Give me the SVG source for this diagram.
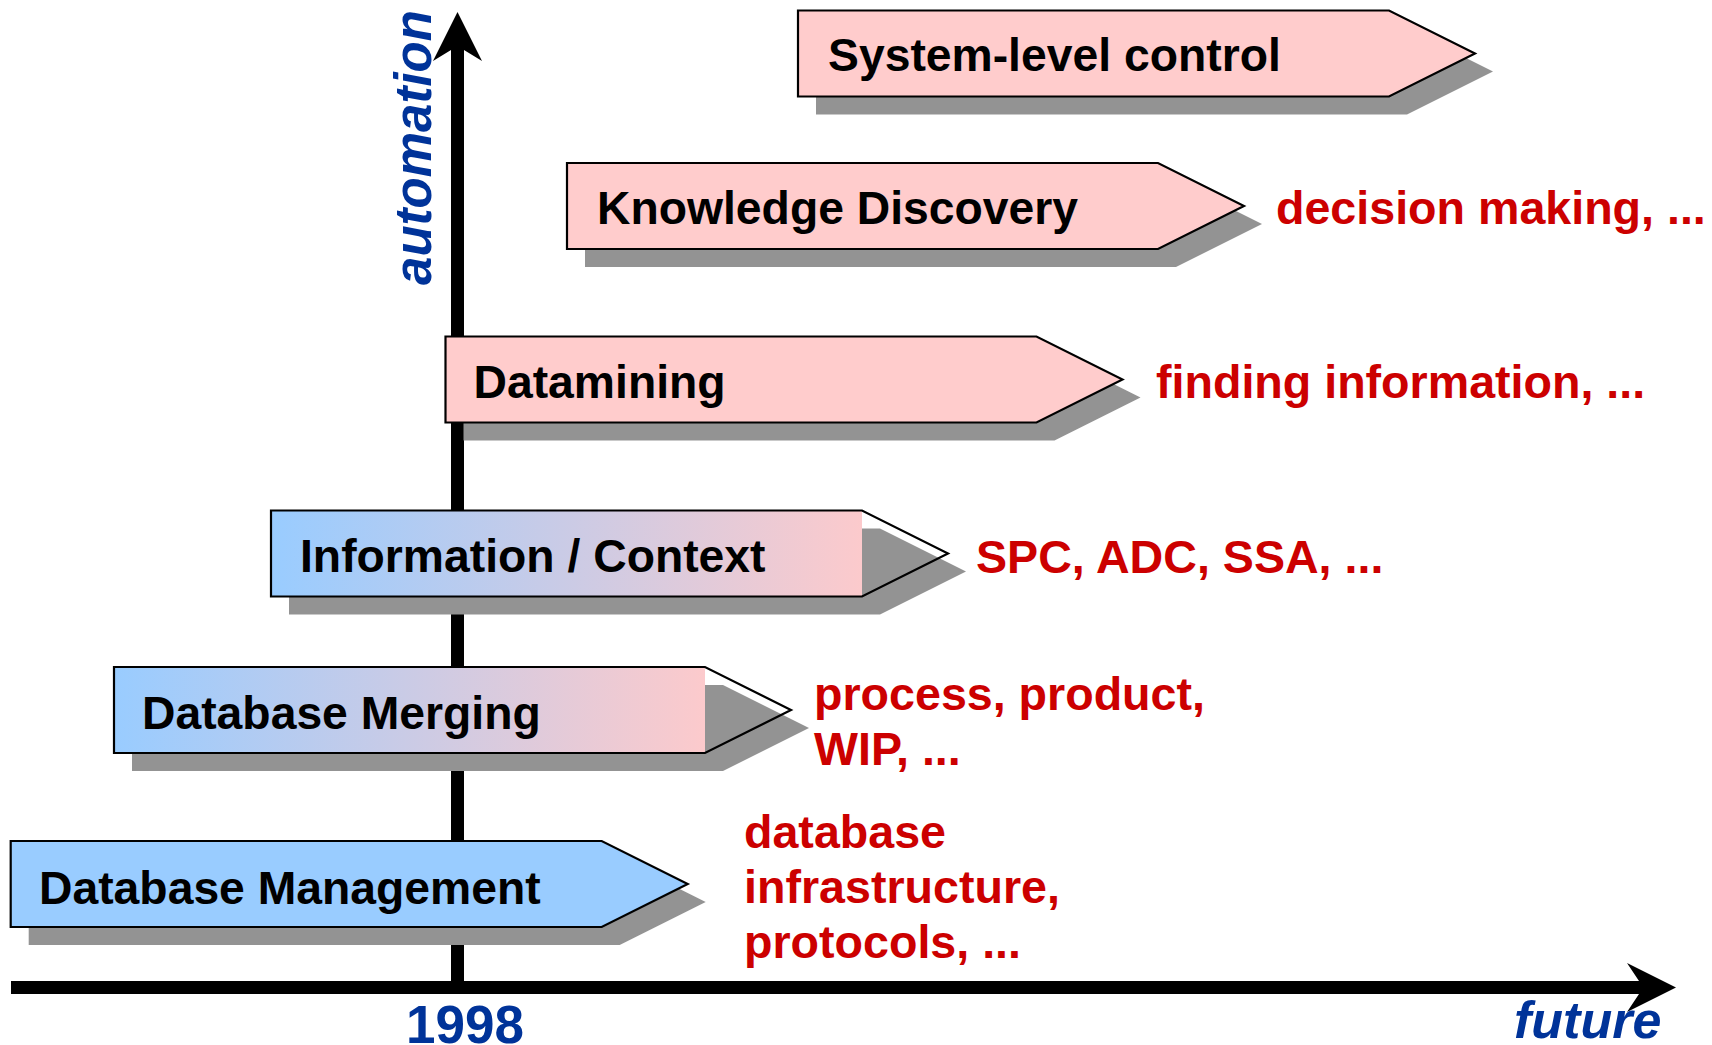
<svg xmlns="http://www.w3.org/2000/svg" xmlns:xlink="http://www.w3.org/1999/xlink" width="1712" height="1045" viewBox="0 0 1712 1045">
  <defs>
    <style>
      .label { font-family: "Liberation Sans", Arial, sans-serif; font-weight: bold; font-size: 46.3px; fill: #000; }
      .note { font-family: "Liberation Sans", Arial, sans-serif; font-weight: bold; font-size: 46.6px; fill: #cc0000; }
      .axis-label { font-family: "Liberation Sans", Arial, sans-serif; font-weight: bold; fill: #003399; }
      .shadow { fill: #939393; stroke: none; }
      .pink { fill: #ffcccc; stroke: #000; stroke-width: 2.2; }
      .blue { fill: #99ccff; stroke: #000; stroke-width: 2.2; }
      .outline { fill: none; stroke: #000; stroke-width: 2.2; }
      .axis { fill: #000; stroke: none; }
    </style>
    <!-- pentagon arrow block: 591 body + 86 point, 86 tall -->
    <path id="block" d="M0,0 H591 L677,43 L591,86 H0 Z"/>
    <linearGradient id="fade" x1="0" y1="0" x2="1" y2="0">
      <stop offset="0" stop-color="#99ccff"/>
      <stop offset="1" stop-color="#fccacc"/>
    </linearGradient>
    <rect id="fadeBody" width="591" height="86" fill="url(#fade)"/>
  </defs>

  <rect width="1712" height="1045" fill="#fff"/>

  <!-- axes -->
  <g id="connectors">
    <rect class="axis" x="451" y="49" width="13" height="945"/>
    <polygon class="axis" points="457.5,12 482,61 464,50 451,50 433,61"/>
    <rect class="axis" x="11" y="981" width="1630" height="13"/>
    <polygon class="axis" points="1676,987.5 1627,1012 1639,994 1639,981 1627,963"/>
  </g>

  <g id="axis-labels">
    <text class="axis-label" font-size="51" font-style="italic" text-anchor="middle" transform="translate(431,147.5) rotate(-90)">automation</text>
    <text class="axis-label" font-size="53" x="406" y="1043">1998</text>
    <text class="axis-label" font-size="52" font-style="italic" x="1514" y="1038">future</text>
  </g>

  <g id="node-system-level-control">
    <use href="#block" class="shadow" x="816" y="28.5"/>
    <use href="#block" class="pink" x="798" y="10.5"/>
    <text class="label" x="828" y="71">System-level control</text>
  </g>

  <g id="node-knowledge-discovery">
    <use href="#block" class="shadow" x="585" y="181"/>
    <use href="#block" class="pink" x="567" y="163"/>
    <text class="label" x="597" y="224">Knowledge Discovery</text>
  </g>

  <g id="node-datamining">
    <use href="#block" class="shadow" x="463.5" y="354.5"/>
    <use href="#block" class="pink" x="445.5" y="336.5"/>
    <text class="label" x="473.5" y="397.5">Datamining</text>
  </g>

  <g id="node-information-context">
    <use href="#block" class="shadow" x="289" y="528.5"/>
    <use href="#fadeBody" x="271" y="510.5"/>
    <use href="#block" class="outline" x="271" y="510.5"/>
    <text class="label" x="300" y="572">Information / Context</text>
  </g>

  <g id="node-database-merging">
    <use href="#block" class="shadow" x="132" y="685"/>
    <use href="#fadeBody" x="114" y="667"/>
    <use href="#block" class="outline" x="114" y="667"/>
    <text class="label" x="142" y="728.5">Database Merging</text>
  </g>

  <g id="node-database-management">
    <use href="#block" class="shadow" x="28.7" y="859"/>
    <use href="#block" class="blue" x="10.7" y="841"/>
    <text class="label" x="39" y="904">Database Management</text>
  </g>

  <g id="notes">
    <text class="note" x="1276" y="224">decision making, ...</text>
    <text class="note" x="1156" y="398">finding information, ...</text>
    <text class="note" x="976" y="573">SPC, ADC, SSA, ...</text>
    <text class="note" x="814" y="709.5">process, product,</text>
    <text class="note" x="814" y="764.5">WIP, ...</text>
    <text class="note" x="744" y="848">database</text>
    <text class="note" x="744" y="903">infrastructure,</text>
    <text class="note" x="744" y="958">protocols, ...</text>
  </g>
</svg>
